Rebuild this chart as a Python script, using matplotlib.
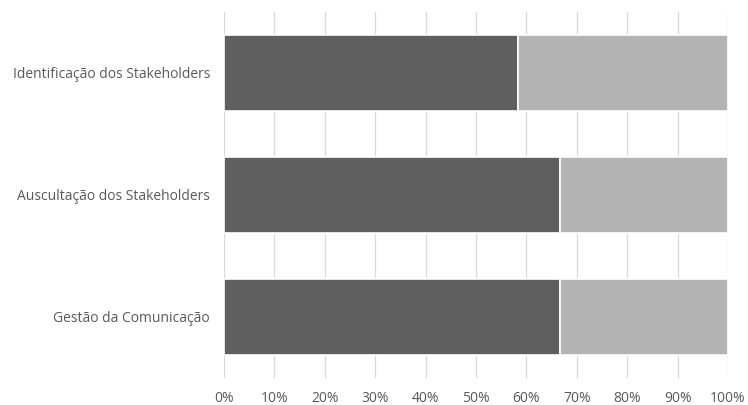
import matplotlib
matplotlib.use("Agg")
import matplotlib.pyplot as plt

categories = ["Identificação dos Stakeholders", "Auscultação dos Stakeholders", "Gestão da Comunicação"]
series_a = [58.33, 66.67, 66.67]
series_b = [41.67, 33.33, 33.33]
xticks = [0, 10, 20, 30, 40, 50, 60, 70, 80, 90, 100]
xticklabels = [f"{t}%" for t in xticks]

plt.rcParams['font.family'] = ['Open Sans', 'DejaVu Sans']

fig = plt.figure(figsize=(7.48, 4.05), dpi=100)
ax = fig.add_axes([224/748, 1-378/405, 504/748, 366/405])

y = list(range(len(categories)))
ax.barh(y, series_a, height=0.615, color="#5f5f5f", edgecolor="white", linewidth=1.2, zorder=3)
ax.barh(y, series_b, left=series_a, height=0.615, color="#b3b3b3", edgecolor="white", linewidth=1.2, zorder=3)

ax.set_ylim(2.5, -0.5)
ax.set_xlim(0, 100)
ax.set_xticks(xticks)
ax.set_xticklabels(xticklabels)
ax.set_yticks(y)
ax.set_yticklabels(categories)
ax.tick_params(axis='both', length=0, labelsize=10, colors="#595959")
ax.tick_params(axis='x', pad=9)
ax.tick_params(axis='y', pad=10)
ax.grid(axis='x', color="#d9d9d9", linewidth=0.9, zorder=0)
for s in ax.spines.values():
    s.set_visible(False)

fig.savefig("out.png", dpi=100)
